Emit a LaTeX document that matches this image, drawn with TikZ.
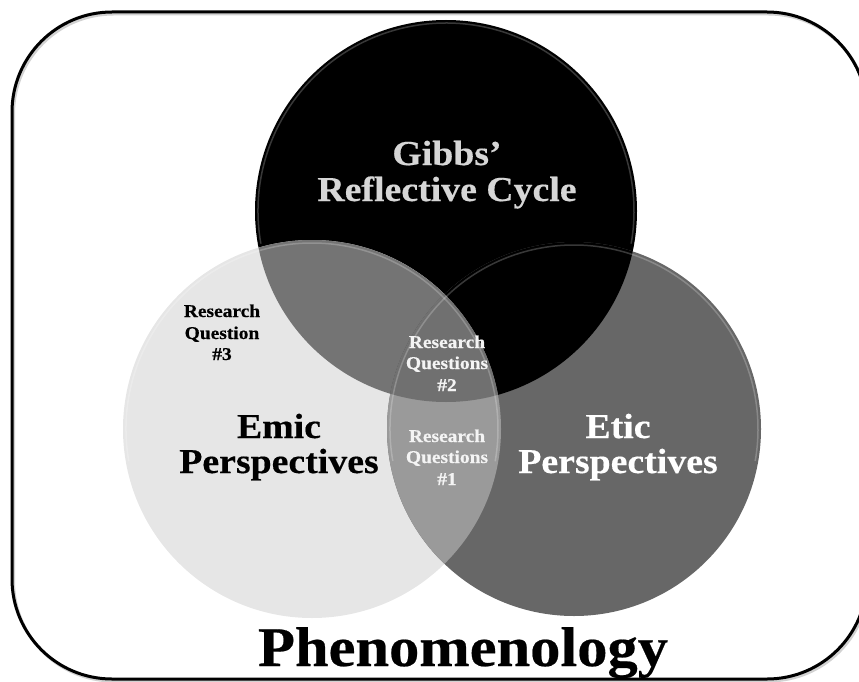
\documentclass[tikz,border=0pt]{standalone}
\usepackage{fontspec}
\setmainfont{Liberation Serif}[FakeStretch=1.08, BoldFeatures={FakeBold=0.4}]
\definecolor{lightc}{HTML}{E6E6E6}
\definecolor{darkc}{HTML}{676767}
\definecolor{tlc}{HTML}{747474}
\definecolor{lrc}{HTML}{9A9A9A}
\definecolor{tripc}{HTML}{707070}
\definecolor{gibbsc}{HTML}{D6D6D6}
\definecolor{rqc}{HTML}{F4F4F4}
\begin{document}
\begin{tikzpicture}[x=1pt,y=-1pt,
  lbl/.style={anchor=base, inner sep=0pt},
  hugefont/.style={font=\fontsize{56}{60}\selectfont\bfseries},
  bigfont/.style={font=\fontsize{35}{40}\selectfont\bfseries},
  smallfont/.style={font=\fontsize{18}{21}\selectfont\bfseries},
  rim/.style={white, opacity=0.22, line width=1.5pt}]
\useasboundingbox (0,0) rectangle (859,682);
% outer frame with slight shadow
\draw[line width=3pt, gray!35, rounded corners=100pt] (13.5,14) rectangle (868.5,681);
\draw[line width=3pt, black, rounded corners=100pt] (12,12) rectangle (867,679);
% circles
\fill[black] (446,211) circle[radius=191pt];
\fill[lightc] (312,429) circle[radius=189pt];
\fill[darkc] (574,429) circle[radius=187pt];
\begin{scope}
  \clip (446,211) circle[radius=191pt];
  \fill[tlc] (312,429) circle[radius=189pt];
\end{scope}
\begin{scope}
  \clip (446,211) circle[radius=191pt];
  \fill[black] (574,429) circle[radius=187pt];
\end{scope}
\begin{scope}
  \clip (312,429) circle[radius=189pt];
  \fill[lrc] (574,429) circle[radius=187pt];
\end{scope}
\begin{scope}
  \clip (446,211) circle[radius=191pt];
  \clip (312,429) circle[radius=189pt];
  \fill[tripc] (574,429) circle[radius=187pt];
\end{scope}
% bevel rims
\draw[rim] (446,211) ++(190:188pt) arc[start angle=190, end angle=-10, radius=188pt];
\draw[rim] (312,429) ++(190:186pt) arc[start angle=190, end angle=-10, radius=186pt];
\draw[rim] (574,429) ++(190:184pt) arc[start angle=190, end angle=-10, radius=184pt];
% texts
\node[lbl, bigfont, text=gibbsc] (gibbsA) at (447,165) {Gibbs’};
\node[lbl, bigfont, text=gibbsc] (gibbsB) at (447,201) {Reflective Cycle};
\node[lbl, bigfont, text=black] (emicA) at (279,438) {Emic};
\node[lbl, bigfont, text=black] (emicB) at (279,473) {Perspectives};
\node[lbl, bigfont, text=white] (eticA) at (618,438) {Etic};
\node[lbl, bigfont, text=white] (eticB) at (618,473) {Perspectives};
\node[lbl, smallfont, text=black] (rq3a) at (222,317) {Research};
\node[lbl, smallfont, text=black] (rq3b) at (222,339) {Question};
\node[lbl, smallfont, text=black] (rq3c) at (222,360) {\#3};
\node[lbl, smallfont, text=rqc] (rq2a) at (447,348) {Research};
\node[lbl, smallfont, text=rqc] (rq2b) at (447,369) {Questions};
\node[lbl, smallfont, text=rqc] (rq2c) at (447,391) {\#2};
\node[lbl, smallfont, text=rqc] (rq1a) at (447,442) {Research};
\node[lbl, smallfont, text=rqc] (rq1b) at (447,463) {Questions};
\node[lbl, smallfont, text=rqc] (rq1c) at (447,485) {\#1};
\node[lbl, hugefont, text=black] (phen) at (463,666) {Phenomenology};
\end{tikzpicture}
\end{document}
